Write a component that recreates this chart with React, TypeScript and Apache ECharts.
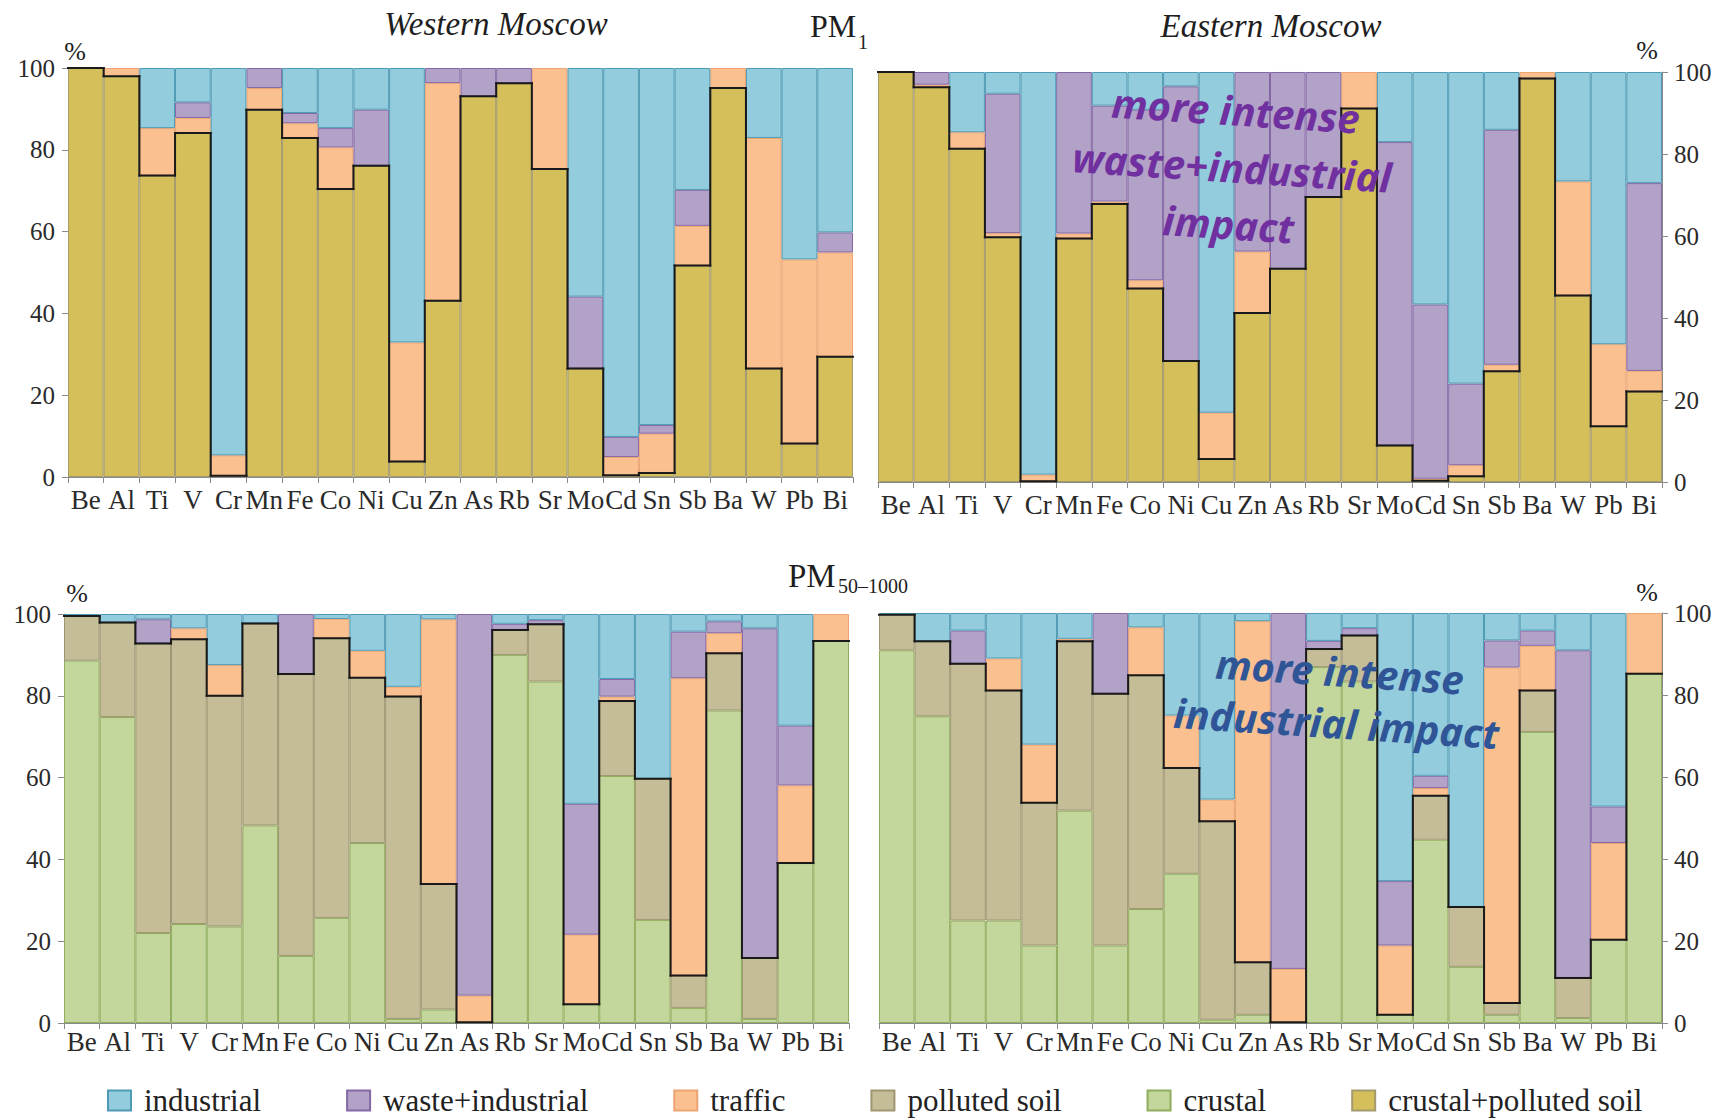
import React, { useEffect, useRef } from 'react';
import * as echarts from 'echarts';

const elements = ['Be', 'Al', 'Ti', 'V', 'Cr', 'Mn', 'Fe', 'Co', 'Ni', 'Cu', 'Zn', 'As', 'Rb', 'Sr', 'Mo', 'Cd', 'Sn', 'Sb', 'Ba', 'W', 'Pb', 'Bi'];
const yTicks = [0, 20, 40, 60, 80, 100];

// Western Moscow, PM1
const wPm1CrustalSoil = [100, 98.0, 73.7, 84.1, 0.3, 89.8, 82.9, 70.4, 76.1, 3.8, 43.1, 93.1, 96.3, 75.3, 26.5, 0.4, 1.0, 51.7, 95.1, 26.5, 8.2, 29.4];
const wPm1Traffic = [0, 2.0, 11.6, 3.7, 5.0, 5.3, 3.6, 10.2, 0, 29.1, 53.2, 0, 0, 24.7, 0, 4.5, 9.6, 9.7, 4.9, 56.4, 45.0, 25.5];
const wPm1Waste = [0, 0, 0, 3.8, 0, 4.9, 2.5, 4.7, 13.7, 0, 3.7, 6.9, 3.7, 0, 17.6, 4.9, 2.1, 8.8, 0, 0, 0, 4.9];
const wPm1Industrial = [0, 0, 14.7, 8.4, 94.7, 0, 11.0, 14.7, 10.2, 67.1, 0, 0, 0, 0, 55.9, 90.2, 87.3, 29.8, 0, 17.1, 46.8, 40.2];

// Eastern Moscow, PM1
const ePm1CrustalSoil = [100, 96.3, 81.3, 59.7, 0.2, 59.4, 67.8, 47.2, 29.5, 5.6, 41.2, 52.0, 69.5, 91.1, 8.9, 0.3, 1.4, 27.0, 98.4, 45.5, 13.6, 22.1];
const ePm1Traffic = [0, 0.6, 4.0, 1.0, 1.6, 1.2, 0.6, 2.0, 0, 11.3, 15.0, 0, 0, 8.9, 0, 0.5, 2.7, 1.6, 1.6, 27.8, 20.0, 5.0];
const ePm1Waste = [0, 3.1, 0, 34.0, 0, 39.4, 23.4, 41.6, 67.0, 0, 43.8, 48.0, 30.5, 0, 74.0, 42.5, 19.9, 57.3, 0, 0, 0, 45.8];
const ePm1Industrial = [0, 0, 14.7, 5.3, 98.2, 0, 8.2, 9.2, 3.5, 83.1, 0, 0, 0, 0, 17.1, 56.7, 76.0, 14.1, 0, 26.7, 66.4, 27.1];

// Western Moscow, PM50-1000
const wPmcCrustal = [88.6, 74.8, 22.0, 24.2, 23.6, 48.3, 16.4, 25.7, 44.0, 1.0, 3.3, 0, 90.0, 83.5, 4.6, 60.4, 25.2, 3.7, 76.4, 1.0, 39.1, 93.4];
const wPmcSoil = [10.9, 23.1, 70.8, 69.6, 56.4, 49.4, 68.9, 68.4, 40.4, 78.8, 30.7, 0.2, 6.1, 14.0, 0, 18.3, 34.5, 7.9, 14.0, 14.9, 0, 0];
const wPmcTraffic = [0, 0, 0, 2.7, 7.5, 0, 0, 4.7, 6.6, 2.4, 64.7, 6.5, 0, 0, 17.0, 1.1, 0, 72.7, 4.9, 0, 19.0, 6.6];
const wPmcWaste = [0, 0, 5.9, 0, 0, 0, 14.7, 0, 0, 0, 0, 93.3, 1.5, 1.0, 32.0, 4.3, 0, 11.4, 2.9, 80.6, 14.6, 0];
const wPmcIndustrial = [0.5, 2.1, 1.3, 3.5, 12.5, 2.3, 0, 1.2, 9.0, 17.8, 1.3, 0, 2.4, 1.5, 46.4, 15.9, 40.3, 4.3, 1.8, 3.5, 27.3, 0];

// Eastern Moscow, PM50-1000
const ePmcCrustal = [90.9, 74.8, 25.0, 25.0, 18.9, 51.8, 18.9, 27.8, 36.4, 0.8, 2.0, 0, 86.8, 83.3, 2.0, 44.7, 13.7, 2.0, 71.0, 1.2, 20.3, 85.2];
const ePmcSoil = [8.7, 18.3, 62.6, 56.1, 34.8, 41.3, 61.4, 57.0, 25.8, 48.4, 12.8, 0.2, 4.4, 11.2, 0, 10.7, 14.6, 2.9, 10.1, 9.8, 0, 0];
const ePmcTraffic = [0, 0, 0, 7.8, 14.2, 0.6, 0, 11.7, 12.8, 5.3, 83.2, 13.0, 0, 0, 16.9, 1.9, 0, 81.8, 10.9, 0, 23.6, 14.8];
const ePmcWaste = [0, 0, 8.1, 0, 0, 0, 19.7, 0, 0, 0, 0, 86.8, 2.0, 1.8, 15.7, 3.0, 0, 6.6, 3.7, 79.9, 8.9, 0];
const ePmcIndustrial = [0.4, 6.9, 4.3, 11.1, 32.1, 6.3, 0, 3.5, 25.0, 45.5, 2.0, 0, 6.8, 3.7, 65.4, 39.7, 71.7, 6.7, 4.3, 9.1, 47.2, 0];

const legendNames = ['industrial', 'waste+industrial', 'traffic', 'polluted soil', 'crustal', 'crustal+polluted soil'];

const STYLE: Record<string, { fill: string; border: string }> = {
  'industrial': { fill: '#93CDDD', border: '#4F9AB4' },
  'waste+industrial': { fill: '#B3A2C7', border: '#8468A6' },
  'traffic': { fill: '#FAC090', border: '#EBA472' },
  'polluted soil': { fill: '#C4BD97', border: '#9E9672' },
  'crustal': { fill: '#C3D69B', border: '#8FAD5C' },
  'crustal+polluted soil': { fill: '#D5BF5B', border: '#A39A6E' },
};

const SERIF = 'Liberation Serif';

function clean(arr: number[]) {
  return arr.map((v) => (v === 0 ? '-' : v));
}

function barSeries(name: string, data: number[], idx: number) {
  return {
    type: 'bar',
    name,
    xAxisIndex: idx,
    yAxisIndex: idx,
    stack: 'panel' + idx,
    barCategoryGap: '0%',
    data: clean(data),
    itemStyle: { color: STYLE[name].fill, borderColor: STYLE[name].border, borderWidth: 1 },
    emphasis: { disabled: true },
  };
}

function boundarySeries(nat: number[], idx: number) {
  return {
    type: 'custom',
    name: 'boundary' + idx,
    xAxisIndex: idx,
    yAxisIndex: idx,
    z: 10,
    silent: true,
    data: nat.map((v, i) => [i, v, i > 0 ? nat[i - 1] : v]),
    renderItem: (params: any, api: any) => {
      const i = api.value(0);
      const v = api.value(1);
      const p = api.value(2);
      const c = api.coord([i, v]);
      const cp = api.coord([i, p]);
      const w = api.size([1, 0])[0];
      const x0 = c[0] - w / 2;
      const x1 = c[0] + w / 2;
      const st = { stroke: '#1a1a1a', lineWidth: 2, lineCap: 'square' };
      const children: any[] = [{ type: 'line', shape: { x1: x0, y1: c[1], x2: x1, y2: c[1] }, style: st }];
      if (i > 0) children.push({ type: 'line', shape: { x1: x0, y1: cp[1], x2: x0, y2: c[1] }, style: st });
      return { type: 'group', children };
    },
  };
}

const grids = [
  { left: 68, top: 68, width: 785, height: 409 },
  { left: 878, top: 72, width: 784, height: 410 },
  { left: 64, top: 614, width: 785, height: 409 },
  { left: 879, top: 613, width: 783, height: 410 },
];

export default function App() {
  const ref = useRef<HTMLDivElement>(null);
  useEffect(() => {
    const chart = echarts.init(ref.current!, null, { renderer: 'svg' });

    const xAxes = grids.map((_, idx) => ({
      type: 'category',
      gridIndex: idx,
      data: elements,
      axisLine: { lineStyle: { color: '#8a8a8a', width: 1 } },
      axisTick: { show: true, interval: 0, length: 6, lineStyle: { color: '#8a8a8a' } },
      axisLabel: { interval: 0, fontFamily: SERIF, fontSize: 27, color: '#2a2a2a', margin: idx < 2 ? 9 : 5 },
    }));
    const yAxes = grids.map((_, idx) => ({
      type: 'value',
      gridIndex: idx,
      min: yTicks[0],
      max: yTicks[yTicks.length - 1],
      interval: 20,
      position: idx % 2 === 0 ? 'left' : 'right',
      splitLine: { show: false },
      axisLine: { show: true, lineStyle: { color: '#8a8a8a' } },
      axisTick: { show: true, length: 6, lineStyle: { color: '#8a8a8a' } },
      axisLabel: { fontFamily: SERIF, fontSize: 25, color: '#2a2a2a', margin: idx % 2 === 0 ? 13 : 12 },
    }));

    const wPmcNat = wPmcCrustal.map((v, i) => v + wPmcSoil[i]);
    const ePmcNat = ePmcCrustal.map((v, i) => v + ePmcSoil[i]);

    const series: any[] = [
      barSeries('crustal+polluted soil', wPm1CrustalSoil, 0),
      barSeries('traffic', wPm1Traffic, 0),
      barSeries('waste+industrial', wPm1Waste, 0),
      barSeries('industrial', wPm1Industrial, 0),
      boundarySeries(wPm1CrustalSoil, 0),

      barSeries('crustal+polluted soil', ePm1CrustalSoil, 1),
      barSeries('traffic', ePm1Traffic, 1),
      barSeries('waste+industrial', ePm1Waste, 1),
      barSeries('industrial', ePm1Industrial, 1),
      boundarySeries(ePm1CrustalSoil, 1),

      barSeries('crustal', wPmcCrustal, 2),
      barSeries('polluted soil', wPmcSoil, 2),
      barSeries('traffic', wPmcTraffic, 2),
      barSeries('waste+industrial', wPmcWaste, 2),
      barSeries('industrial', wPmcIndustrial, 2),
      boundarySeries(wPmcNat, 2),

      barSeries('crustal', ePmcCrustal, 3),
      barSeries('polluted soil', ePmcSoil, 3),
      barSeries('traffic', ePmcTraffic, 3),
      barSeries('waste+industrial', ePmcWaste, 3),
      barSeries('industrial', ePmcIndustrial, 3),
      boundarySeries(ePmcNat, 3),
    ];

    const serifText = (text: string, x: number, y: number, size: number, extra: any = {}) => ({
      type: 'text',
      x,
      y,
      silent: true,
      style: { text, fontFamily: SERIF, fontSize: size, fill: '#1e1e1e', align: 'left', verticalAlign: 'middle', ...extra },
    });

    const annotation = (text: string, x: number, y: number, color: string, lh: number) => ({
      type: 'text',
      x,
      y,
      rotation: -0.065,
      silent: true,
      z: 100,
      style: {
        text,
        fontFamily: 'Noto Sans',
        fontWeight: 'bold',
        fontStyle: 'italic',
        fontSize: 40,
        lineHeight: lh,
        fill: color,
        align: 'center',
        verticalAlign: 'middle',
      },
    });

    chart.setOption({
      animation: false,
      backgroundColor: '#ffffff',
      grid: grids,
      xAxis: xAxes,
      yAxis: yAxes,
      series,
      legend: {
        data: legendNames,
        left: 107,
        top: 1085,
        padding: 0,
        icon: 'rect',
        itemWidth: 23,
        itemHeight: 20,
        itemGap: 85,
        selectedMode: false,
        itemStyle: { borderWidth: 2 },
        textStyle: { fontFamily: SERIF, fontSize: 31, lineHeight: 28, color: '#222', padding: [0, 0, 0, 8] },
      },
      graphic: [
        serifText('Western Moscow', 496, 24, 33, { fontStyle: 'italic', align: 'center' }),
        serifText('Eastern Moscow', 1271, 26, 33, { fontStyle: 'italic', align: 'center' }),
        serifText('PM', 810, 26, 32),
        serifText('1', 858, 42, 20),
        serifText('PM', 788, 576, 33),
        serifText('50–1000', 838, 586, 20),
        serifText('%', 75, 51, 26, { align: 'center' }),
        serifText('%', 1647, 50, 26, { align: 'center' }),
        serifText('%', 77, 593, 26, { align: 'center' }),
        serifText('%', 1647, 592, 26, { align: 'center' }),
        annotation('more intense\nwaste+industrial\nimpact', 1232, 167, '#7030A0', 57),
        annotation('more intense\nindustrial impact', 1338, 697, '#2F5597', 52),
      ],
    });
    return () => chart.dispose();
  }, []);
  return <div ref={ref} style={{ position: 'absolute', left: 0, top: 0, width: 1724, height: 1118, background: '#fff' }} />;
}
